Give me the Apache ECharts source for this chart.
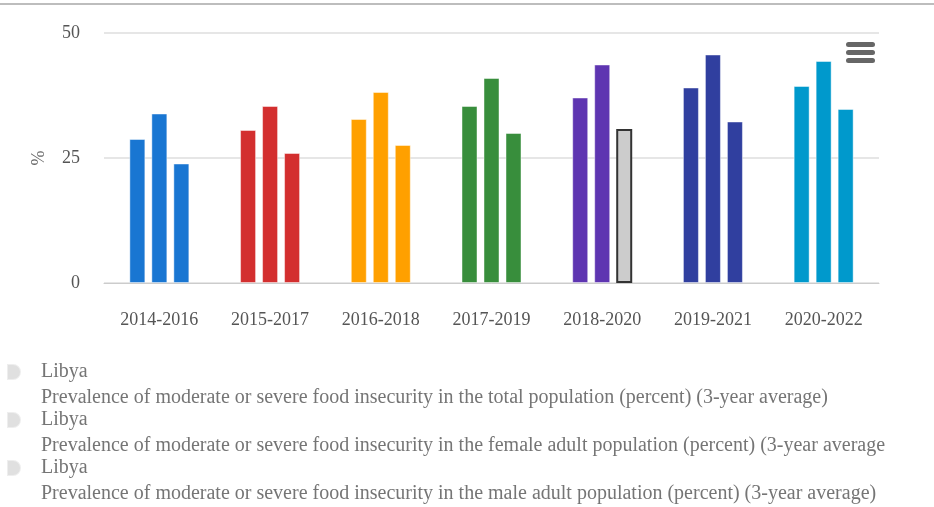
<!DOCTYPE html>
<html>
<head>
<meta charset="utf-8">
<script src="https://cdn.jsdelivr.net/npm/echarts@6/dist/echarts.min.js"></script>
<style>
  html, body { margin: 0; padding: 0; background: #fff; }
  #chart { width: 934px; height: 507px; }
</style>
</head>
<body>
<div id="chart"></div>
<script>
const categories = ['2014-2016', '2015-2017', '2016-2018', '2017-2019', '2018-2020', '2019-2021', '2020-2022']
const country = 'Libya'
const seriesNames = [
  'Prevalence of moderate or severe food insecurity in the total population (percent) (3-year average)',
  'Prevalence of moderate or severe food insecurity in the female adult population (percent) (3-year average',
  'Prevalence of moderate or severe food insecurity in the male adult population (percent) (3-year average)'
]
const totalValues = [28.8, 30.6, 32.8, 35.4, 37.1, 39.1, 39.4]
const femaleValues = [33.9, 35.4, 38.2, 41.0, 43.7, 45.7, 44.4]
const maleValues = [23.9, 26.0, 27.6, 30.0, 30.8, 32.3, 34.8]
const yTicks = [0, 25, 50]

// one colour per period
const palette = ['#1976d2', '#d32f2f', '#ffa000', '#388e3c', '#5e35b1', '#303f9f', '#0099cc']
const hoverIndex = 4 // bar that is shown in the hover state (male, 2018-2020)

const font = '"Liberation Serif", "Times New Roman", serif'
const chart = echarts.init(document.getElementById('chart'))

function makeSeries(name, values, withHover) {
  return {
    name: name,
    type: 'bar',
    barWidth: 16,
    barGap: '37.5%',
    animation: false,
    itemStyle: {
      color: (p) => palette[p.dataIndex],
      borderColor: 'rgba(255,255,255,0.45)',
      borderWidth: 1
    },
    data: values.map((v, i) => {
      if (withHover && i === hoverIndex) {
        return { value: v, itemStyle: { color: '#cccccc', borderColor: '#333', borderWidth: 2 } }
      }
      return v
    })
  }
}

chart.setOption({
  backgroundColor: '#fff',
  color: ['#e0e0e0', '#e0e0e0', '#e0e0e0'],
  grid: {
    left: 104,
    right: 55,
    top: 33,
    bottom: 224
  },
  legend: {
    orient: 'vertical',
    left: 6,
    top: 359,
    height: 200,
    padding: 0,
    itemWidth: 14,
    itemHeight: 42,
    itemGap: -4,
    // icon sits beside the first text line: the path is padded down to the item height
    icon: 'path://M0,0 L6,0 A8,8 0 0 1 6,16 L0,16 Z M0,42 L0.01,42 Z',
    selectedMode: false,
    formatter: (name) => country + '\n' + name,
    textStyle: {
      fontFamily: font,
      fontSize: 20,
      color: '#757575',
      lineHeight: 26,
      padding: [0, 0, 0, 15]
    }
  },
  xAxis: {
    type: 'category',
    data: categories,
    axisLine: { lineStyle: { color: '#cccccc' } },
    axisTick: { length: 10, lineStyle: { color: '#cccccc' } },
    axisLabel: {
      fontFamily: font,
      fontSize: 18,
      color: '#555',
      margin: 28
    }
  },
  yAxis: {
    type: 'value',
    min: yTicks[0],
    max: yTicks[yTicks.length - 1],
    interval: 25,
    name: '%',
    nameLocation: 'middle',
    nameGap: 56,
    nameTextStyle: { fontFamily: font, fontSize: 18, color: '#666' },
    axisLine: { show: false },
    axisTick: { show: false },
    axisLabel: { fontFamily: font, fontSize: 18, color: '#555', margin: 24 },
    splitLine: { lineStyle: { color: '#e6e6e6', width: 2 } }
  },
  graphic: [
    { type: 'line', shape: { x1: 0, y1: 4, x2: 934, y2: 4 }, style: { stroke: '#bdbdbd', lineWidth: 2 } },
    {
      type: 'group', left: 846, top: 42,
      children: [0, 8, 16].map((dy) => ({
        type: 'rect', shape: { x: 0, y: dy, width: 29, height: 5, r: 2.5 }, style: { fill: '#666' }
      }))
    }
  ],
  series: [
    makeSeries(seriesNames[0], totalValues, false),
    makeSeries(seriesNames[1], femaleValues, false),
    makeSeries(seriesNames[2], maleValues, true)
  ]
})
</script>
</body>
</html>
